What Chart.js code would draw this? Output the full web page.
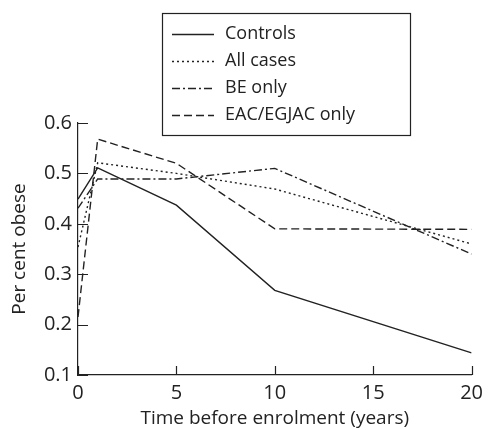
<!DOCTYPE html>
<html>
<head>
<meta charset="utf-8">
<script src="https://cdn.jsdelivr.net/npm/chart.js@4/dist/chart.umd.min.js"></script>
<style>
html,body{margin:0;padding:0;background:#fff;}
#wrap{width:489px;height:430px;}
</style>
</head>
<body>
<div id="wrap"><canvas id="c" width="489" height="430"></canvas></div>
<script>
const years = [0, 1, 5, 10, 20];
const controls = [0.449, 0.511, 0.437, 0.268, 0.144];
const allCases = [0.354, 0.521, 0.50, 0.469, 0.36];
const beOnly = [0.431, 0.489, 0.489, 0.51, 0.34];
const eacOnly = [0.215, 0.568, 0.52, 0.39, 0.389];
const seriesLabels = ['Controls', 'All cases', 'BE only', 'EAC/EGJAC only'];
const xTicks = [0, 5, 10, 15, 20];
const yTicks = [0.1, 0.2, 0.3, 0.4, 0.5, 0.6];

const INK = '#222';
const FONT = '"Open Sans", "DejaVu Sans", sans-serif';
const dashes = [[], [2, 3], [8, 3, 2, 3], [8, 4]];
const seriesData = [controls, allCases, beOnly, eacOnly];

const datasets = seriesData.map((vals, i) => ({
  label: seriesLabels[i],
  data: years.map((x, j) => ({x: x, y: vals[j]})),
  borderColor: INK,
  borderWidth: 1.4,
  borderDash: dashes[i],
  pointRadius: 0,
  fill: false,
  tension: 0
}));

const innerTicks = {
  id: 'innerTicks',
  afterDraw(chart) {
    const ctx = chart.ctx;
    const xs = chart.scales.x, ys = chart.scales.y;
    const area = chart.chartArea;
    ctx.save();
    ctx.strokeStyle = INK;
    ctx.lineWidth = 1.2;
    ctx.beginPath();
    xTicks.forEach(v => {
      const px = Math.round(xs.getPixelForValue(v)) + 0.5;
      ctx.moveTo(px, area.bottom);
      ctx.lineTo(px, area.bottom - 9);
    });
    yTicks.forEach(v => {
      const py = Math.round(ys.getPixelForValue(v)) + 0.5;
      ctx.moveTo(area.left, py);
      ctx.lineTo(area.left + 10, py);
    });
    ctx.stroke();
    ctx.restore();
  }
};

const boxLegend = {
  id: 'boxLegend',
  afterDraw(chart) {
    const ctx = chart.ctx;
    const left = 162, top = 13, right = 410, bottom = 135;
    ctx.save();
    ctx.fillStyle = '#fff';
    ctx.fillRect(left, top, right - left, bottom - top);
    ctx.strokeStyle = INK;
    ctx.lineWidth = 1.2;
    ctx.setLineDash([]);
    ctx.strokeRect(left + 0.5, top + 0.5, right - left, bottom - top);
    ctx.font = '18px ' + FONT;
    ctx.fillStyle = INK;
    ctx.textBaseline = 'middle';
    chart.data.datasets.forEach((ds, i) => {
      const y = 34 + i * 27;
      ctx.beginPath();
      ctx.setLineDash(ds.borderDash || []);
      ctx.lineWidth = 1.4;
      ctx.moveTo(172, y + 0.5);
      ctx.lineTo(214, y + 0.5);
      ctx.stroke();
      ctx.setLineDash([]);
      ctx.fillText(ds.label, 225, y);
    });
    ctx.restore();
  }
};

new Chart(document.getElementById('c'), {
  type: 'line',
  data: {datasets: datasets},
  plugins: [innerTicks, boxLegend],
  options: {
    responsive: false,
    animation: false,
    devicePixelRatio: 1,
    layout: {padding: {top: 123, right: 13, left: 0, bottom: 0}},
    plugins: {legend: {display: false}, tooltip: {enabled: false}},
    scales: {
      x: {
        type: 'linear',
        min: 0, max: 20,
        afterBuildTicks: s => { s.ticks = xTicks.map(v => ({value: v})); },
        afterFit: s => { s.height = 55; },
        grid: {display: false, drawTicks: false},
        border: {display: true, color: INK, width: 1.2},
        ticks: {color: INK, font: {family: FONT, size: 20}, padding: 6, maxRotation: 0},
        title: {display: true, text: 'Time before enrolment (years)', color: INK, font: {family: FONT, size: 19}, padding: {top: 0, bottom: 0}}
      },
      y: {
        min: 0.1, max: 0.6,
        afterBuildTicks: s => { s.ticks = yTicks.map(v => ({value: v})); },
        afterFit: s => { s.width = 78; },
        grid: {display: false, drawTicks: false},
        border: {display: true, color: INK, width: 1.2},
        ticks: {color: INK, font: {family: FONT, size: 20}, padding: 6, callback: v => v.toFixed(1)},
        title: {display: true, text: 'Per cent obese', color: INK, font: {family: FONT, size: 19}, padding: {top: 8, bottom: 0}}
      }
    }
  }
});
</script>
</body>
</html>
